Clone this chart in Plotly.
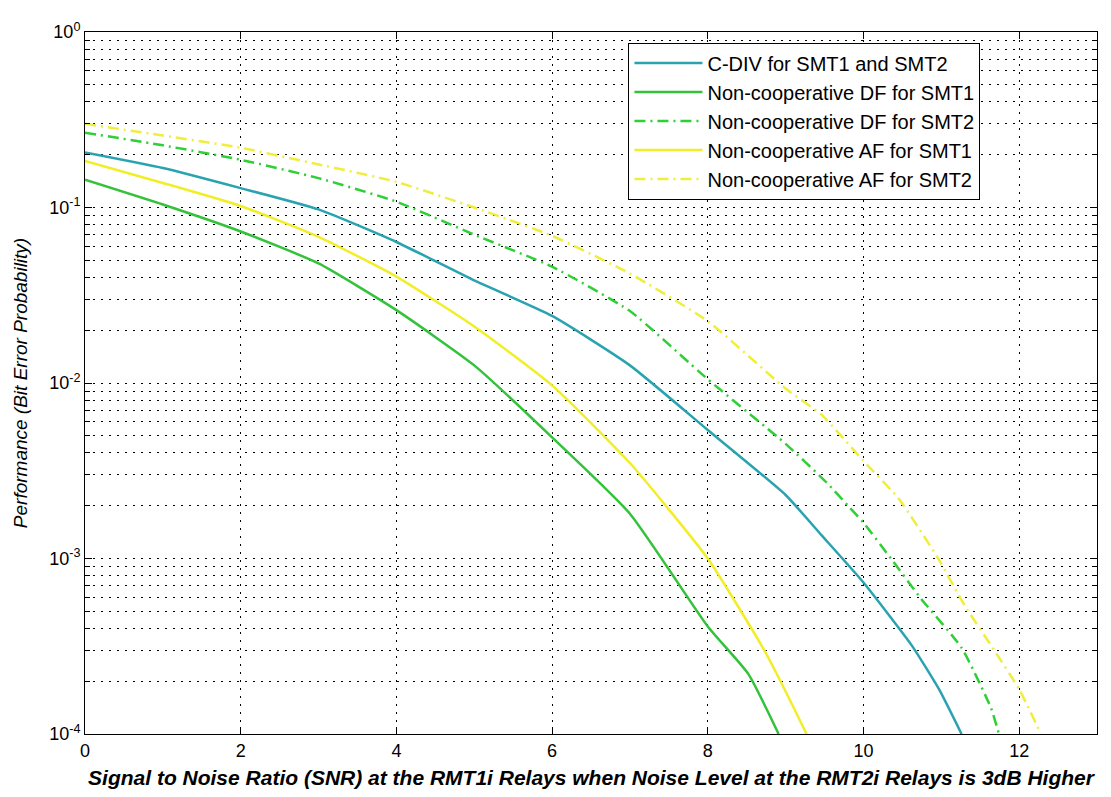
import plotly.graph_objects as go

# SNR (dB) and bit error probability per curve
x_cdiv = [0, 1, 2, 3, 4, 5, 6, 7, 8, 9, 9.46, 10, 10.62, 10.97, 11.26]
y_cdiv = [0.206, 0.168, 0.129, 0.0975, 0.0636, 0.0384, 0.0241, 0.0126, 0.0054, 0.0023,
          0.00136, 0.00073, 0.00032, 0.00018, 0.0001]

x_df1 = [0, 1, 2, 3, 4, 5, 6, 7, 8, 8.52, 8.91]
y_df1 = [0.144, 0.104, 0.073, 0.048, 0.026, 0.0126, 0.0049, 0.0018, 0.00041, 0.00022, 0.0001]

x_df2 = [0, 1, 2, 3, 4, 5, 6, 7, 8, 9, 9.53, 9.8, 10, 10.36, 10.74, 11.26, 11.64, 11.74]
y_df2 = [0.267, 0.226, 0.187, 0.147, 0.108, 0.070, 0.046, 0.0257, 0.0105, 0.0045,
         0.0027, 0.002, 0.0016, 0.00099, 0.00059, 0.00031, 0.00014, 0.0001]

x_af1 = [0, 1, 2, 3, 4, 5, 6, 7, 8, 8.69, 8.91, 9.27]
y_af1 = [0.184, 0.138, 0.102, 0.068, 0.0404, 0.021, 0.0097, 0.0035, 0.001, 0.00032,
         0.00021, 0.0001]

x_af2 = [0, 1, 2, 3, 4, 5, 6, 7, 8, 9, 9.46, 10, 10.45, 10.96, 11.3, 11.68, 12, 12.28]
y_af2 = [0.30, 0.257, 0.219, 0.176, 0.14, 0.10, 0.069, 0.042, 0.0225, 0.0093, 0.0066,
         0.0036, 0.0022, 0.001, 0.00054, 0.0003, 0.00018, 0.0001]

names = [
    "C-DIV for SMT1 and SMT2",
    "Non-cooperative DF for SMT1",
    "Non-cooperative DF for SMT2",
    "Non-cooperative AF for SMT1",
    "Non-cooperative AF for SMT2",
]

y_tickvals = [1e-4, 1e-3, 1e-2, 1e-1, 1]
y_ticktext = ["10<sup>-4</sup>", "10<sup>-3</sup>", "10<sup>-2</sup>", "10<sup>-1</sup>", "10<sup>0</sup>"]
y_minor = [k * 10.0 ** e for e in range(-4, 0) for k in range(2, 10)]

DASHDOT = "11px,5px,2px,5px"
DOTS = "2px,6px"
series = [
    (x_cdiv, y_cdiv, "#2aa3b0", "solid"),
    (x_df1, y_df1, "#33c23a", "solid"),
    (x_df2, y_df2, "#2fcf36", DASHDOT),
    (x_af1, y_af1, "#f2ee26", "solid"),
    (x_af2, y_af2, "#f0ee3a", DASHDOT),
]

fig = go.Figure()
for (xs, ys, color, dash), name in zip(series, names):
    fig.add_trace(go.Scatter(x=xs, y=ys, mode="lines", name=name, line_shape="spline",
                             line=dict(color=color, width=2.5, dash=dash, smoothing=0.5)))

FONT = "Liberation Sans, Arial, sans-serif"
tick_font = dict(family=FONT, size=18, color="black")

# page body has an 8px margin, so the figure is a bit smaller than the window
fig.update_layout(
    width=1103,
    height=789,
    margin=dict(l=74, r=14, t=17, b=60),
    paper_bgcolor="white",
    plot_bgcolor="white",
    font=tick_font,
    legend=dict(
        x=0.537, y=0.985, xanchor="left", yanchor="top",
        bgcolor="white", bordercolor="black", borderwidth=1,
        font=dict(family=FONT, size=20, color="black"),
        itemwidth=68, tracegroupgap=0,
    ),
)

fig.update_xaxes(
    range=[0, 13], dtick=2, tick0=0,
    showline=True, linecolor="black", linewidth=1, mirror="ticks",
    ticks="inside", ticklen=7, tickcolor="black",
    showgrid=True, gridcolor="black", gridwidth=1, griddash=DOTS,
    zeroline=False, tickfont=tick_font,
    title=dict(text="<b><i>Signal to Noise Ratio (SNR) at the RMT1i Relays when Noise Level at the RMT2i Relays is 3dB Higher</i></b>",
               font=dict(family=FONT, size=21, color="black"), standoff=10),
)

fig.update_yaxes(
    type="log", range=[-4, 0],
    tickmode="array", tickvals=y_tickvals, ticktext=y_ticktext,
    showline=True, linecolor="black", linewidth=1, mirror="ticks",
    ticks="inside", ticklen=7, tickcolor="black",
    showgrid=True, gridcolor="black", gridwidth=1, griddash=DOTS,
    zeroline=False, tickfont=tick_font,
    minor=dict(tickmode="array", tickvals=y_minor, ticks="inside", ticklen=5,
               tickcolor="black", showgrid=True, gridcolor="black", gridwidth=1,
               griddash=DOTS),
    title=dict(text="<i>Performance (Bit Error Probability)</i>",
               font=dict(family=FONT, size=19, color="black"), standoff=16),
)

fig.write_html("out.html")
